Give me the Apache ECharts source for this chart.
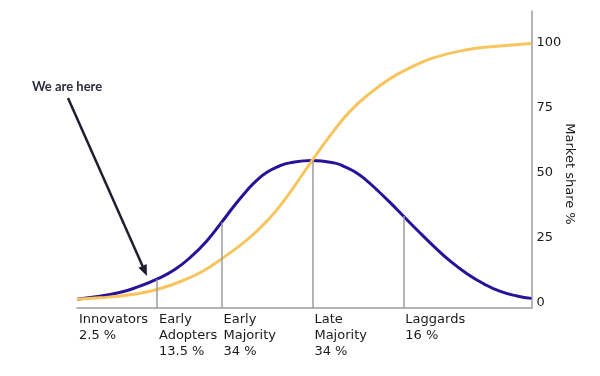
<!DOCTYPE html>
<html>
<head>
<meta charset="utf-8">
<script src="https://cdn.jsdelivr.net/npm/echarts@6/dist/echarts.min.js"></script>
<style>
  html, body { margin: 0; background: #fff; }
  #chart { width: 600px; height: 376px; }
</style>
</head>
<body>
<div id="chart"></div>
<script>
// x is measured in standard deviations from the mean
const bellX = [-2.58, -2.33, -2.11, -1.96, -1.70, -1.50, -1.30, -1.15, -0.99, -0.85, -0.71, -0.60, -0.49, -0.36, -0.24, 0.01,
  0.26, 0.36, 0.48, 0.60, 0.72, 0.86, 1.01, 1.17, 1.34, 1.52, 1.71, 1.90, 2.07, 2.26, 2.42]
const adopters = [1.5, 2.6, 4.1, 5.6, 9.2, 13.0, 18.6, 24.0, 31.0, 37.4, 43.3, 47.3, 50.3, 52.6, 53.9, 54.8,
  53.8, 52.5, 50.4, 47.3, 43.5, 38.8, 33.5, 27.8, 22.0, 16.3, 11.3, 7.3, 4.6, 2.7, 1.8]

const shareX = [-2.58, -2.33, -1.96, -1.70, -1.37, -1.17, -0.99, -0.71, -0.49, -0.31, 0.01, 0.24, 0.42, 0.61, 0.86, 1.08, 1.34, 1.71, 2.07, 2.42]
const marketShare = [1.5, 2.0, 3.4, 5.2, 9.3, 12.8, 17.0, 24.3, 31.6, 39.0, 55.0, 66.0, 73.6, 79.7, 86.2, 90.4, 94.3, 97.4, 98.8, 99.8]

// group boundaries and where they meet the bell curve
const boundX = [-1.70, -0.99, 0.01, 1.01]
const boundTop = [9.2, 31.0, 54.8, 33.5]

const groupX = [-2.58, -1.70, -0.99, 0.01, 1.01]
const groups = ['Innovators\n2.5 %', 'Early\nAdopters\n13.5 %', 'Early\nMajority\n34 %', 'Late\nMajority\n34 %', 'Laggards\n16 %']
const yTicks = [0, 25, 50, 75, 100]

const X_MIN = -2.58, X_MAX = 2.42
const Y_MIN = -1.9, Y_MAX = 112.3

const chart = echarts.init(document.getElementById('chart'))

const font = 'DejaVu Sans'
const axisGray = '#9c9c9c'

// arrow for the "We are here" note
const tip = [147, 276], tail = [68, 98]
const dx = tip[0] - tail[0], dy = tip[1] - tail[1]
const len = Math.sqrt(dx * dx + dy * dy)
const ux = dx / len, uy = dy / len
const headLen = 11, headW = 4.5
const base = [tip[0] - ux * headLen, tip[1] - uy * headLen]

const option = {
  animation: false,
  grid: { left: 77, right: 68.5, top: 11, bottom: 68 },
  xAxis: {
    type: 'value',
    min: X_MIN,
    max: X_MAX,
    axisLine: { onZero: false, lineStyle: { color: axisGray, width: 1.5 } },
    axisTick: { show: false },
    splitLine: { show: false },
    axisLabel: {
      customValues: groupX,
      align: 'left',
      verticalAlign: 'top',
      margin: 4,
      padding: [0, 0, 0, 2],
      color: '#1a1a1a',
      fontFamily: font,
      fontSize: 13,
      lineHeight: 16,
      formatter: function (v) {
        const i = groupX.indexOf(v)
        return i >= 0 ? groups[i] : ''
      }
    }
  },
  yAxis: {
    type: 'value',
    position: 'right',
    min: Y_MIN,
    max: Y_MAX,
    axisLine: { show: true, onZero: false, lineStyle: { color: axisGray, width: 1.5 } },
    axisTick: { show: false },
    splitLine: { show: false },
    axisLabel: {
      customValues: yTicks,
      margin: 5,
      color: '#1a1a1a',
      fontFamily: font,
      fontSize: 13
    }
  },
  series: [
    {
      type: 'line',
      data: [],
      z: 1,
      silent: true,
      markLine: {
        silent: true,
        symbol: 'none',
        label: { show: false },
        lineStyle: { color: axisGray, width: 1.5, type: 'solid' },
        data: boundX.map(function (x, i) {
          return [{ coord: [x, Y_MIN] }, { coord: [x, boundTop[i]] }]
        })
      }
    },
    {
      name: 'Adopters',
      type: 'line',
      smooth: 0.5,
      showSymbol: false,
      z: 3,
      lineStyle: { color: '#2a1199', width: 3 },
      data: bellX.map(function (x, i) { return [x, adopters[i]] })
    },
    {
      name: 'Market share',
      type: 'line',
      smooth: 0.5,
      showSymbol: false,
      z: 4,
      lineStyle: { color: '#f7c45e', width: 3 },
      data: shareX.map(function (x, i) { return [x, marketShare[i]] })
    }
  ],
  graphic: [
    {
      type: 'text',
      x: 569,
      y: 174,
      rotation: -Math.PI / 2,
      style: {
        text: 'Market share %',
        font: '13px "DejaVu Sans"',
        fill: '#1a1a1a',
        textAlign: 'center',
        textVerticalAlign: 'middle'
      }
    },
    {
      type: 'text',
      x: 32,
      y: 87,
      style: {
        text: 'We are here',
        font: 'bold 13px Lato',
        fill: '#2b2d3c',
        textAlign: 'left',
        textVerticalAlign: 'middle'
      }
    },
    {
      type: 'line',
      shape: { x1: tail[0], y1: tail[1], x2: base[0], y2: base[1] },
      style: { stroke: '#1e1f2e', lineWidth: 2.5 }
    },
    {
      type: 'polygon',
      shape: {
        points: [
          tip,
          [base[0] - uy * headW, base[1] + ux * headW],
          [base[0] + uy * headW, base[1] - ux * headW]
        ]
      },
      style: { fill: '#1e1f2e' }
    }
  ]
}

chart.setOption(option)
</script>
</body>
</html>
